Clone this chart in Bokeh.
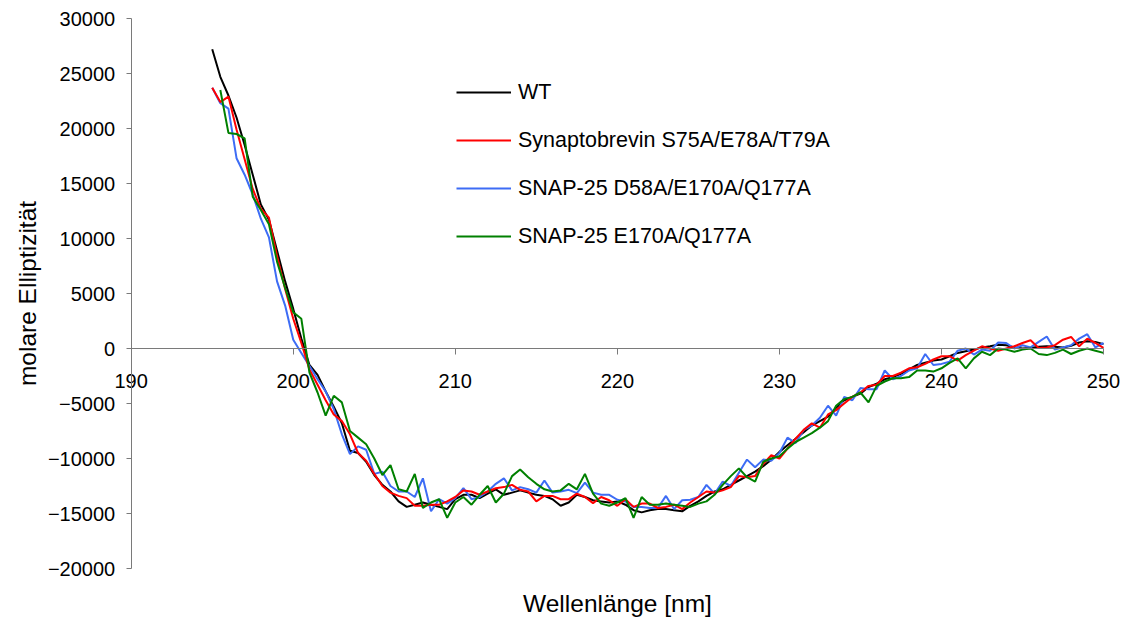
from bokeh.plotting import figure
from bokeh.models import Range1d, LinearAxis, FixedTicker, Legend, LegendItem, ColumnDataSource
from bokeh.embed import file_html
from bokeh.resources import INLINE

NAN = float("nan")

# measurement grid: 195.0 ... 250.0 nm in 0.5 nm steps
wavelength = [195.0 + 0.5 * i for i in range(111)]

wt = [
    27200, 24700, 23000, 21000, 18500, 15800, 13100, 11700, 8900, 6100,
    3600, 900, -1500, -2400, -3900, -5300, -6800, -9300, -9500, -10300,
    -11500, -12400, -13000, -13900, -14400, -14200, -14000, -14200, -14400, -14600,
    -13700, -13300, -13300, -13600, -13200, -12800, -13300, -13100, -12900, -13100,
    -13300, -13400, -13700, -14300, -14000, -13300, -13500, -13800, -13900, -14000,
    -13900, -14200, -14700, -14900, -14700, -14600, -14600, -14700, -14800, -14300,
    -13900, -13400, -13000, -12800, -12400, -12000, -11600, -11200, -10700, -10100,
    -9400, -8800, -8200, -7600, -7000, -6600, -6200, -5400, -4700, -4400,
    -4100, -3500, -3200, -2800, -2600, -2300, -1900, -1500, -1300, -1100,
    -1000, -700, -400, -250, -100, 100, 200, 350, 300, 100,
    0, 50, 150, 200, 150, 100, 250, 550, 650, 600,
    400,
]

syb = [
    23700, 22400, 22900, 19900, 17200, 14500, 12700, 11900, 8400, 5400,
    2700, 500, -1900, -3300, -4700, -6000, -6600, -7800, -9500, -10200,
    -11400, -12500, -13100, -13400, -13600, -14300, -14300, -14200, -14200, -13900,
    -13500, -12900, -13000, -13300, -13000, -12700, -12600, -12400, -12850, -13000,
    -13900, -13400, -13400, -13700, -13700, -13200, -13500, -14060, -13500, -13800,
    -14300, -13700, -14400, -14100, -14100, -14500, -14400, -14200, -14600, -14000,
    -13500, -13000, -13100, -12900, -12600, -11600, -11700, -11600, -10500, -9700,
    -10000, -9100, -8200, -7400, -6800, -7200, -6000, -5600, -5000, -4400,
    -4000, -3400, -3300, -2500, -2500, -2200, -1800, -1700, -1400, -1000,
    -700, -700, -1100, -600, -200, 200, 0, -200, 0, 200,
    500, 750, 50, 100, 300, 800, 1050, 200, 900, 500,
    50,
]

snap_triple = [
    23700, 22300, 21800, 17300, 15800, 14000, 11800, 10100, 6100, 3900,
    800, -400, -1600, -2800, -3900, -5500, -7800, -9600, -8900, -9200,
    -11400, -11200, -12500, -13000, -13000, -13500, -11800, -14800, -13700, -14100,
    -13600, -12700, -13700, -13500, -13000, -12300, -11800, -12900, -12600, -12800,
    -13100, -12000, -13100, -13000, -12850, -13150, -12200, -13100, -13300, -13300,
    -13750, -13900, -14400, -14400, -14500, -14500, -13400, -14600, -13800, -13750,
    -13500, -12400, -13200, -12100, -12500, -11300, -10100, -10800, -10100, -10200,
    -9500, -8100, -8600, -7400, -7000, -6300, -5200, -6100, -4400, -4700,
    -3600, -3700, -3700, -2000, -2800, -2500, -2000, -1800, -500, -1500,
    -1400, -1200, -200, 0, -550, -100, -200, 550, 500, 0,
    300, 100, 600, 1090, -100, 100, 300, 900, 1300, 100,
    500,
]

snap_double = [
    NAN, 23500, 19600, 19500, 19100, 13800, 12600, 11300, 7900, 5500,
    3300, 2700, -2200, -4000, -6100, -4300, -4900, -7500, -8100, -8700,
    -10000, -11500, -10600, -12800, -13000, -11400, -14500, -14000, -13700, -15400,
    -14000, -13500, -14200, -13300, -12500, -14000, -13200, -11600, -11000, -11700,
    -12300, -12800, -13000, -12900, -12300, -12800, -11400, -13200, -14100, -14300,
    -14000, -13600, -15400, -13500, -14200, -14200, -14100, -14200, -14300, -14400,
    -14100, -13900, -13300, -12400, -11600, -10900, -11700, -12100, -10300, -10000,
    -9800, -9100, -8500, -8100, -7700, -7200, -6600, -5200, -4600, -4400,
    -4000, -4900, -3400, -3000, -2700, -2700, -2600, -2000, -2000, -2100,
    -1800, -1300, -900, -1800, -900, -300, -600, 0, -100, -300,
    -100, 0, -500, -600, -400, -100, -500, -200, 0, -200,
    -400,
]

series_names = [
    "WT",
    "Synaptobrevin S75A/E78A/T79A",
    "SNAP-25 D58A/E170A/Q177A",
    "SNAP-25 E170A/Q177A",
]
series_colors = ["#000000", "#ff0000", "#3d6cf5", "#008000"]

x_ticks = [190, 200, 210, 220, 230, 240, 250]
y_ticks = [-20000, -15000, -10000, -5000, 0, 5000, 10000, 15000, 20000, 25000, 30000]
x_axis_bounds = (190, 250)
y_axis_bounds = (-20000, 30000)

FONT = "Liberation Sans"
AXIS_COLOR = "#7a7a7a"

# layout: the frame spans the whole canvas so that axes drawn at fixed locations
# (which are clipped to the frame) keep all of their labels visible.
W, H = 1130, 621
AXIS_LEFT_PX, AXIS_RIGHT_PX = 130.7, 1103.0
AXIS_TOP_PX, AXIS_BOTTOM_PX = 18.0, 568.0
px_per_nm = (AXIS_RIGHT_PX - AXIS_LEFT_PX) / (x_axis_bounds[1] - x_axis_bounds[0])
px_per_unit = (AXIS_BOTTOM_PX - AXIS_TOP_PX) / (y_axis_bounds[1] - y_axis_bounds[0])
x_start = x_axis_bounds[0] - AXIS_LEFT_PX / px_per_nm
x_end = x_axis_bounds[1] + (W - AXIS_RIGHT_PX) / px_per_nm
y_start = y_axis_bounds[0] - (H - AXIS_BOTTOM_PX) / px_per_unit
y_end = y_axis_bounds[1] + AXIS_TOP_PX / px_per_unit

p = figure(
    width=W, height=H,
    x_range=Range1d(x_start, x_end), y_range=Range1d(y_start, y_end),
    output_backend="svg", toolbar_location=None,
    x_axis_location=None, y_axis_location=None,
    min_border_left=0, min_border_right=0, min_border_top=0, min_border_bottom=0,
    background_fill_color="white", border_fill_color="white",
    outline_line_color=None,
)
p.grid.visible = False

# y axis at x = 190
ya = LinearAxis(
    fixed_location=x_axis_bounds[0],
    bounds=y_axis_bounds,
    ticker=FixedTicker(ticks=y_ticks),
    axis_line_color=AXIS_COLOR,
    major_tick_line_color=AXIS_COLOR,
    minor_tick_line_color=None,
    major_tick_out=5, major_tick_in=0,
    major_label_standoff=11,
    major_label_text_font=FONT,
    major_label_text_font_size="20px",
    major_label_text_color="black",
    axis_label="molare Elliptizität",
    axis_label_text_font=FONT,
    axis_label_text_font_size="24.5px",
    axis_label_text_font_style="normal",
    axis_label_text_color="black",
    axis_label_standoff=4,
)
p.add_layout(ya, "left")

# x axis crossing at y = 0
xa = LinearAxis(
    fixed_location=0,
    bounds=x_axis_bounds,
    ticker=FixedTicker(ticks=x_ticks),
    axis_line_color=AXIS_COLOR,
    major_tick_line_color=AXIS_COLOR,
    minor_tick_line_color=None,
    major_tick_out=6, major_tick_in=0,
    major_label_standoff=19,
    major_label_text_font=FONT,
    major_label_text_font_size="20px",
    major_label_text_color="black",
)
p.add_layout(xa, "below")

# x axis title, hung below the bottom of the value range
xt = LinearAxis(
    fixed_location=y_axis_bounds[0],
    bounds=x_axis_bounds,
    ticker=FixedTicker(ticks=[]),
    axis_line_color=None,
    major_tick_line_color=None,
    minor_tick_line_color=None,
    major_tick_out=0, major_tick_in=0,
    major_label_standoff=0,
    axis_label="Wellenlänge [nm]",
    axis_label_text_font=FONT,
    axis_label_text_font_size="24.5px",
    axis_label_text_font_style="normal",
    axis_label_text_color="black",
    axis_label_standoff=21,
)
p.add_layout(xt, "below")

source = ColumnDataSource(data=dict(
    x=wavelength, wt=wt, syb=syb, snap_triple=snap_triple, snap_double=snap_double,
))
cols = ["wt", "syb", "snap_triple", "snap_double"]

renderers = {}
for i in [0, 2, 1, 3]:
    renderers[series_names[i]] = p.line("x", cols[i], source=source,
                                        line_color=series_colors[i], line_width=2)

legend = Legend(
    items=[LegendItem(label=n, renderers=[renderers[n]]) for n in series_names],
    location=(456, H - 249),
    orientation="vertical",
    glyph_width=55, glyph_height=26, label_height=26,
    spacing=22, label_standoff=7,
    padding=0, margin=0,
    border_line_color=None, background_fill_alpha=0,
    label_text_font=FONT, label_text_font_size="21.5px",
    label_text_color="black",
)
p.add_layout(legend)

open("out.html", "w").write(file_html(p, INLINE))
